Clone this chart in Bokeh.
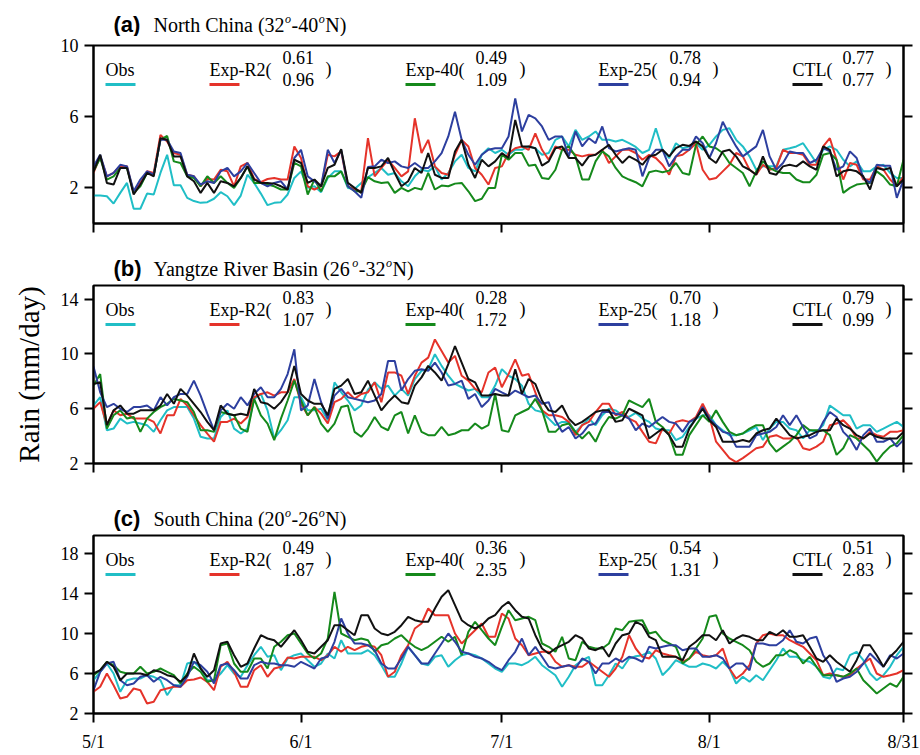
from bokeh.plotting import figure
from bokeh.layouts import column
from bokeh.models import Range1d, LinearAxis, FixedTicker, Label, BoxAnnotation, CustomJSTickFormatter
from bokeh.core.properties import value
from bokeh.embed import file_html
from bokeh.resources import INLINE

# ---------------- data ----------------
days = list(range(122))          # 0 = 5/1 ... end of axis at 8/31
tick_days = [0, 31, 61, 92, 121]
tick_labels = ["5/1", "6/1", "7/1", "8/1", "8/31"]
series_names = ["Obs", "Exp-R2(", "Exp-40(", "Exp-25(", "CTL("]
series_colors = ["#20bec6", "#e5332a", "#15891b", "#2d3f9f", "#111111"]

# (a) North China
nc_obs = [1.57,1.57,1.53,1.12,1.72,2.28,0.83,0.83,1.68,1.63, 2.84,3.86,2.15,2.15,1.44,1.26,1.16,1.20,1.39,1.76,
          1.53,1.03,1.57,2.74,2.28,1.68,1.03,1.16,1.20,1.63, 2.56,2.93,2.00,2.09,1.76,2.56,2.93,2.93,2.00,1.94,
          2.28,2.60,
          2.84,3.12,2.74,2.84,2.37,2.09,2.65,3.02,2.93,3.21, 2.47,2.84,3.49,3.86,3.12,2.93,3.86,4.23,3.96,4.14,
          3.86,4.14,4.14,4.33,4.23,3.86,3.96,4.70,4.89,4.33, 5.26,4.70,4.89,5.17,4.70,4.70,4.61,4.70,4.51,4.30,
          3.96,4.14,5.35,4.14,3.68,4.51,4.23,4.33,4.51,4.14, 4.42,4.89,5.26,5.35,4.70,4.33,3.77,3.02,3.21,3.21,
          3.21,4.14,4.23,4.33,4.51,3.96,3.40,4.14,4.33,4.14, 3.58,3.21,3.49,2.93,2.93,3.21,3.30,2.84,2.56,2.56]
nc_r2 = [2.84,3.77,2.65,2.84,3.25,3.21,1.72,2.28,2.93,2.84, 4.98,4.61,3.96,3.86,2.74,2.65,2.09,2.50,2.47,3.02,
         2.93,2.09,3.21,3.40,2.50,2.32,2.50,2.56,2.47,2.47, 4.33,3.68,2.09,1.91,2.09,3.86,3.77,4.05,2.09,1.91,
         1.81,4.79,
         2.65,3.12,3.58,3.12,2.65,2.93,5.91,3.96,4.70,3.21, 2.84,2.74,3.86,4.70,4.33,3.12,2.74,2.19,3.12,3.21,
         3.96,4.23,4.33,4.14,5.07,4.14,3.58,4.33,4.14,4.14, 3.86,3.77,3.86,3.86,4.14,3.40,3.77,4.14,4.14,3.96,
         3.58,3.86,3.68,3.30,2.74,3.77,3.86,4.14,4.51,3.02, 2.47,2.56,2.93,3.30,3.96,3.77,3.02,2.74,3.30,3.02,
         3.12,4.14,3.96,3.96,3.86,3.30,3.30,4.33,4.79,3.58, 2.47,3.40,3.30,2.47,2.47,3.21,3.02,2.47,2.09,2.65]
nc_e40 = [2.93,3.68,2.47,2.65,3.12,3.12,1.72,2.09,2.84,2.74, 4.70,4.92,3.49,3.40,2.65,2.56,2.09,2.65,2.28,2.65,
          2.28,2.00,2.56,3.21,2.28,2.28,2.19,2.09,1.91,1.91, 3.40,3.21,1.63,2.47,1.81,2.65,2.65,2.93,2.09,1.81,
          1.81,2.60,
          2.37,2.28,2.32,1.72,2.00,1.81,2.00,1.91,2.84,1.91, 2.13,2.09,2.24,2.28,1.81,1.26,1.39,2.00,2.00,3.86,
          3.58,3.96,3.96,3.25,3.30,2.56,2.50,3.02,4.14,4.33, 3.77,2.47,2.47,3.49,4.05,3.77,3.12,2.65,2.47,2.32,
          2.09,2.88,2.97,2.88,2.97,3.40,2.84,2.74,4.42,4.89, 4.33,4.23,3.96,3.40,3.12,2.84,2.09,2.93,3.49,3.12,
          2.93,2.84,2.84,2.47,2.32,2.32,2.74,3.86,3.96,3.58, 1.72,2.00,2.19,2.24,2.28,2.93,2.65,2.19,2.09,3.58]
nc_e25 = [3.21,3.86,2.65,2.84,3.30,3.21,1.81,2.47,2.93,2.74, 4.70,4.70,4.05,3.96,2.74,2.65,2.19,2.37,2.28,2.93,
          3.12,2.65,2.93,3.40,2.84,2.28,2.09,2.28,2.37,1.91, 3.68,4.14,2.65,2.37,2.09,4.14,3.40,4.14,2.09,1.81,
          1.44,3.17,
          3.21,3.58,3.40,3.49,3.21,3.12,3.40,3.12,3.12,3.49, 3.96,4.89,6.28,4.70,3.86,3.30,3.86,4.14,4.23,4.23,
          4.89,7.03,5.17,6.10,5.91,5.45,4.70,4.89,4.89,3.77, 5.17,4.33,4.79,4.51,5.45,4.23,4.05,4.14,4.23,4.14,
          2.65,3.68,4.14,4.14,3.21,3.77,4.14,4.14,4.89,4.51, 3.68,4.51,5.72,4.98,4.33,3.77,4.05,4.33,5.26,3.77,
          3.02,3.40,4.05,3.96,3.96,3.40,3.58,4.23,4.05,3.02, 3.21,4.05,3.68,2.56,2.28,3.30,3.25,3.25,1.44,2.47]
nc_ctl = [2.93,3.86,2.28,2.19,3.12,3.12,1.63,2.19,2.84,2.65, 4.79,4.70,3.77,3.77,2.65,2.37,1.72,2.28,1.72,2.37,
          2.28,2.09,2.56,3.21,2.47,2.28,2.28,2.24,2.09,1.91, 3.58,3.40,2.28,2.47,2.09,3.12,3.30,4.18,2.28,2.00,
          1.72,3.12,
          3.12,3.21,3.68,2.84,2.09,2.37,3.12,2.84,3.96,2.74, 2.56,2.56,4.05,4.70,3.30,2.56,3.58,3.21,3.49,3.96,
          3.68,5.82,4.33,4.33,4.23,3.25,3.49,4.23,4.33,3.68, 3.68,3.25,3.77,3.86,4.14,4.42,3.86,3.40,3.77,3.58,
          3.30,3.77,3.86,4.14,3.77,4.23,4.42,4.36,4.61,4.33, 3.68,3.40,4.05,4.14,3.77,3.21,3.02,2.74,3.77,2.84,
          2.74,3.21,3.30,3.21,3.49,3.21,3.02,4.33,4.14,2.65, 2.93,3.02,2.93,2.65,1.91,3.12,3.02,3.12,2.09,2.47]

# (b) Yangtze River Basin
yr_obs = [6.24,6.84,4.43,4.55,5.28,4.92,5.04,4.92,4.80,4.31, 5.16,5.88,6.12,6.12,6.12,5.28,3.95,3.83,3.83,5.40,
          5.88,4.55,4.19,4.55,6.72,7.08,5.88,3.83,4.43,5.16, 6.84,6.84,5.88,5.88,6.00,5.16,7.93,7.20,6.60,5.88,
          6.24,7.40,
          7.93,7.45,7.69,6.96,7.45,6.96,8.17,8.77,8.89,9.98, 9.13,8.41,7.81,7.57,7.33,7.45,6.84,6.84,7.69,8.89,
          8.41,8.17,7.69,6.36,5.88,5.76,5.28,4.80,5.04,5.04, 4.31,4.80,5.28,4.80,5.52,6.00,5.88,5.52,5.40,5.70,
          5.28,5.04,4.55,4.43,4.43,3.71,3.95,4.67,5.28,5.52, 5.52,4.80,4.43,4.07,4.07,4.19,4.43,4.67,3.71,4.55,
          5.04,5.04,4.55,4.43,3.83,4.43,4.31,4.80,6.24,5.88, 5.52,5.52,4.55,4.80,4.80,4.31,4.55,4.80,5.04,4.67]
yr_r2 = [6.00,6.48,4.80,5.88,5.52,5.64,5.28,5.28,5.28,5.04, 4.19,5.52,5.52,6.72,6.24,5.52,4.80,4.19,3.59,5.04,
         5.04,5.28,4.92,5.40,6.84,7.08,7.20,6.96,7.20,7.20, 8.17,6.36,5.52,6.12,5.64,4.92,6.48,6.72,7.20,6.72,
         7.08,7.20,
         7.93,6.48,8.65,8.65,8.41,7.08,8.41,9.37,9.73,11.06, 10.22,9.37,9.86,8.41,8.05,7.45,7.20,8.65,9.01,7.57,
         8.53,9.61,8.41,8.53,7.20,5.88,5.52,5.52,5.40,5.04, 4.07,4.80,5.04,5.76,6.36,6.36,5.52,5.76,5.28,5.04,
         4.31,3.59,3.47,4.55,4.19,5.04,5.16,5.04,5.40,6.36, 5.40,3.59,2.99,2.39,2.10,2.39,2.75,3.11,3.23,3.95,
         4.07,3.83,3.83,3.95,3.11,2.99,3.23,3.59,4.80,4.92, 5.16,4.67,3.83,3.83,4.31,4.07,3.95,4.31,4.31,4.43]
yr_e40 = [7.69,8.53,4.55,5.52,5.88,5.28,5.40,4.31,5.28,5.76, 6.12,6.36,6.72,6.60,6.48,5.76,4.43,4.43,4.31,5.76,
          5.64,5.52,4.55,4.31,6.72,5.52,4.92,3.71,5.28,6.60, 8.05,6.60,5.52,6.12,4.92,4.31,4.92,6.12,6.24,4.31,
          3.95,4.55,
          5.40,4.67,4.43,5.52,5.76,4.19,5.52,4.31,4.07,4.07, 4.67,4.07,4.19,4.43,4.43,4.92,4.55,4.80,7.08,4.43,
          4.31,5.52,5.76,6.00,6.72,5.88,4.31,4.31,4.80,4.92, 4.31,3.83,4.31,3.59,4.67,5.40,5.28,5.52,6.60,6.36,
          6.12,6.72,5.04,4.67,4.07,2.63,2.63,4.07,4.80,5.52, 5.04,5.88,5.04,4.31,4.07,4.19,4.55,4.80,4.80,3.47,
          2.87,3.23,3.59,4.07,4.80,4.43,4.43,4.43,4.07,2.63, 3.11,4.07,3.83,3.35,2.87,2.14,2.75,3.23,3.47,4.07]
yr_e25 = [9.08,7.20,6.12,6.36,6.00,5.76,6.12,6.12,6.24,5.88, 6.84,6.24,6.84,7.08,7.08,8.05,6.96,5.64,4.43,5.88,
          6.36,6.00,6.84,6.24,7.08,7.57,6.84,6.84,7.45,8.53, 10.34,5.88,6.24,8.17,6.48,5.28,6.96,7.45,6.84,6.72,
          6.60,6.48,
          6.60,7.08,9.49,9.49,7.33,8.17,8.77,8.89,8.77,9.37, 8.65,7.69,7.81,8.05,6.72,7.08,6.12,6.60,7.45,7.20,
          6.96,7.33,7.08,6.84,6.96,6.36,6.48,5.16,4.31,4.67, 3.83,4.19,4.80,4.92,5.76,5.76,5.64,5.52,5.28,4.43,
          4.92,4.67,5.04,5.40,5.04,4.92,4.31,5.04,5.28,6.12, 5.28,4.80,4.31,4.19,3.23,3.23,3.23,4.07,4.19,4.31,
          4.67,5.52,4.80,5.52,4.67,3.83,4.07,5.04,5.76,5.40, 4.31,3.83,2.99,4.07,4.55,3.59,3.59,3.83,3.23,3.71]
yr_ctl = [7.81,7.93,4.80,5.88,6.24,5.64,5.64,5.88,5.88,5.88, 6.24,7.08,6.36,7.45,6.96,6.36,5.76,5.04,4.43,6.24,
          5.64,5.52,5.64,5.52,7.45,6.48,6.36,6.00,6.48,7.20, 9.13,7.08,6.60,6.36,6.36,5.52,7.45,7.69,8.17,7.08,
          7.20,8.05,
          6.96,5.88,6.48,6.96,6.48,6.36,7.69,8.29,9.13,8.65, 8.05,9.25,10.58,9.37,8.17,7.93,6.96,6.96,7.08,6.96,
          6.96,8.89,7.08,8.17,7.81,6.60,5.88,5.76,6.24,5.28, 4.80,5.04,5.40,5.76,5.88,5.88,5.04,5.16,6.00,5.76,
          5.52,3.83,4.19,4.55,4.07,3.23,3.23,4.55,5.28,6.00, 5.16,4.67,3.59,3.59,3.59,3.71,3.59,4.19,4.43,4.55,
          5.28,4.67,4.07,3.83,3.95,4.07,4.31,4.43,4.43,5.28, 4.80,4.55,4.07,3.83,4.19,3.95,3.83,3.83,3.83,4.31]

# (c) South China
sc_obs = [5.33,6.17,7.00,6.00,4.17,5.33,5.50,5.50,5.83,5.67, 5.33,3.83,4.83,4.83,7.00,7.17,6.50,5.33,5.33,6.00,
          6.83,6.00,5.67,6.83,7.83,8.67,7.67,7.83,6.33,7.50, 7.83,8.00,7.33,6.67,7.00,8.00,7.50,9.33,8.00,8.00,
          8.00,8.33,
          7.83,6.83,5.67,5.67,7.00,8.67,7.83,7.00,6.83,7.67, 7.83,6.67,7.33,7.83,8.00,7.83,7.50,7.00,6.50,6.17,
          7.00,7.00,6.83,7.17,7.67,6.83,6.33,5.83,4.67,5.67, 6.83,7.33,7.67,4.83,4.83,5.83,7.00,6.50,7.50,7.73,
          7.83,8.17,7.50,5.83,6.50,7.33,7.00,6.67,6.67,7.00, 6.83,6.50,7.17,6.50,5.00,5.67,5.17,5.83,5.33,6.33,
          7.33,8.50,7.67,7.67,7.33,7.17,6.67,5.67,5.50,6.50, 6.33,7.83,8.17,7.33,6.00,5.33,5.83,6.67,7.83,8.67]
sc_r2 = [4.17,4.67,6.00,4.83,3.50,3.67,4.50,4.33,3.00,3.17, 4.33,4.50,4.67,4.67,5.33,5.40,5.60,5.17,4.33,6.67,
         7.17,6.17,4.67,4.67,6.33,6.83,5.67,6.50,6.67,7.60, 7.50,7.67,7.67,7.67,7.33,7.83,8.67,8.17,8.67,8.33,
         8.67,8.83,
         8.67,7.83,5.67,6.17,7.83,8.83,10.50,11.00,12.50,11.83, 11.83,11.83,10.00,9.00,9.67,10.33,11.00,9.67,9.67,12.00,
         11.50,9.50,8.83,7.83,8.00,8.17,8.17,7.17,6.67,6.83, 6.67,6.67,7.17,6.67,6.17,5.67,6.50,7.67,9.83,8.50,
         7.67,7.50,8.33,8.00,7.83,7.67,7.17,7.50,8.17,7.83, 7.67,7.83,8.50,6.50,5.50,6.00,6.83,9.00,9.83,10.00,
         9.83,9.83,9.33,9.00,8.67,8.00,7.33,5.83,6.00,5.83, 5.67,5.83,6.50,7.00,7.50,6.00,5.67,5.83,6.00,6.33]
sc_e40 = [5.83,6.33,7.17,6.83,6.17,6.00,6.00,6.67,6.00,6.17, 6.50,6.17,5.83,5.00,6.00,6.67,6.17,5.17,5.33,8.83,
          9.00,7.00,6.17,6.17,7.50,7.50,6.50,8.67,9.17,9.83, 10.00,9.00,8.00,7.50,8.00,9.50,14.17,10.00,9.67,9.33,
          9.50,9.33,
          8.17,8.83,9.00,9.50,9.83,9.17,8.67,8.33,8.67,9.17, 9.67,9.17,9.67,7.83,10.17,11.17,10.33,9.50,8.83,10.67,
          12.33,11.33,11.50,11.67,11.33,9.00,8.67,8.17,9.67,7.50, 7.33,9.17,8.67,8.50,8.50,9.00,10.50,10.33,11.17,11.27,
          11.33,10.00,10.17,9.33,9.00,8.67,7.00,7.50,8.50,9.50, 11.67,11.83,10.00,9.50,9.17,8.83,8.33,7.17,6.67,7.00,
          7.83,7.83,8.33,8.00,7.00,7.67,6.67,5.83,5.83,5.83, 5.67,6.00,6.50,5.33,4.67,4.00,4.50,5.00,4.67,5.67]
sc_e25 = [4.33,6.17,7.00,7.17,5.33,4.83,5.00,5.67,5.83,5.17, 5.67,5.33,4.83,4.67,5.67,7.17,6.83,6.17,5.00,6.83,
          7.00,6.33,5.50,5.50,6.83,7.17,7.00,7.00,6.83,6.83, 6.67,7.17,6.83,6.50,7.50,7.67,9.17,11.50,10.00,9.00,
          9.00,8.83,
          8.33,7.00,6.50,6.50,7.50,8.67,7.83,7.00,7.00,8.00, 9.00,10.00,9.17,8.17,8.00,7.67,7.50,7.17,6.67,6.33,
          7.33,8.17,9.50,7.83,8.67,7.67,6.67,6.50,6.67,6.83, 6.50,7.50,7.17,6.00,7.00,7.00,7.50,7.17,7.67,7.50,
          7.17,8.67,8.50,8.67,8.83,8.83,8.33,8.50,8.50,7.67, 7.67,7.83,7.50,6.50,7.00,7.00,6.33,9.00,9.00,8.83,
          8.83,9.33,10.33,9.17,9.00,9.50,9.67,7.83,6.83,5.17, 5.50,5.67,6.17,7.00,8.00,7.33,6.67,7.83,7.50,8.00]
sc_ctl = [6.00,6.33,7.17,6.67,5.33,6.00,6.00,6.00,5.83,6.33, 6.17,5.83,5.67,5.17,5.83,8.00,6.50,5.67,6.33,9.00,
          9.17,7.83,6.67,7.00,8.50,9.83,9.50,9.33,8.67,9.50, 10.33,9.33,8.17,8.00,8.67,9.33,10.83,10.83,10.33,9.83,
          11.83,11.83,
          10.50,10.00,9.83,10.17,10.83,11.67,11.33,11.17,11.17,12.50, 13.67,14.33,12.83,11.33,10.83,10.50,10.83,11.50,11.83,12.67,
          13.17,12.33,11.67,11.50,9.83,8.50,8.00,8.50,8.83,9.17, 9.83,9.50,8.50,8.33,8.67,7.67,9.00,9.83,10.00,11.17,
          10.83,9.67,9.33,7.67,7.67,7.67,7.33,8.67,9.17,9.83, 9.83,9.33,10.33,9.00,9.50,9.83,9.67,9.33,9.33,10.17,
          9.83,10.33,9.67,9.67,9.83,8.67,7.50,7.17,7.83,7.17, 6.67,6.17,7.33,8.83,8.83,7.83,6.67,7.67,8.33,9.17]

# correlation / ratio pairs for Exp-R2, Exp-40, Exp-25, CTL
nc_stats = [("0.61", "0.96"), ("0.49", "1.09"), ("0.78", "0.94"), ("0.77", "0.77")]
yr_stats = [("0.83", "1.07"), ("0.28", "1.72"), ("0.70", "1.18"), ("0.79", "0.99")]
sc_stats = [("0.49", "1.87"), ("0.36", "2.35"), ("0.54", "1.31"), ("0.51", "2.83")]

# ---------------- styling / layout ----------------
SERIF = "Liberation Serif"
SANS = "Liberation Sans"
X0, X1 = 0, 121
FL, FR = 93, 903          # frame left/right (px)
FH = 178                  # frame height (px)
TITLE_SIZE = 20

name_x = [105, 209, 405, 598, 792]
num_x = [282, 475, 669, 842]
close_x = [325, 519, 712, 885]

TIMES_W = {" ": .25, "(": .333, ")": .333, "-": .333, "N": .722, "o": .5, "r": .333, "t": .278,
           "h": .5, "C": .667, "i": .278, "n": .5, "a": .444, "Y": .722, "g": .5, "z": .444,
           "e": .444, "R": .667, "v": .5, "B": .667, "s": .389, "S": .556, "u": .5}


def est_width(txt, size):
    return sum(TIMES_W.get(ch, 0.5) for ch in txt) * size


def px2x(px):
    return X0 + (px - FL) * (X1 - X0) / (FR - FL)


def style_axis(ax, labels=True):
    ax.axis_line_width = 2
    ax.axis_line_color = "black"
    ax.major_tick_line_width = 2
    ax.major_tick_line_color = "black"
    ax.major_tick_in = 0
    ax.major_tick_out = 9
    ax.minor_tick_line_color = None
    ax.major_label_text_font = SERIF
    ax.major_label_text_font_size = "18px"
    ax.major_label_text_color = "black"
    if not labels:
        ax.formatter = CustomJSTickFormatter(code="return ''")
        ax.major_label_standoff = 0


def make_title(h, cy, tag, region, lat1, lat2):
    # frame spans page x FL..FR, so data x == page px
    t = figure(width=920, height=h, x_range=Range1d(FL, FR), y_range=Range1d(h, 0),
               output_backend="svg", toolbar_location=None,
               x_axis_type=None, y_axis_type=None,
               min_border_left=FL, min_border_right=920 - FR, min_border_top=0, min_border_bottom=0)
    t.outline_line_color = None
    t.background_fill_color = "white"
    t.border_fill_color = "white"
    t.text(x=[113], y=[cy], text=[tag], text_font=value(SANS), text_font_style="bold",
           text_font_size="22px", text_baseline="middle", text_align="left", text_color="black")
    x = 153
    pieces = [(region + " (" + lat1, False), ("o", True), ("-" + lat2, False), ("o", True), ("N)", False)]
    for txt, sup in pieces:
        if sup:
            t.text(x=[x + 0.5], y=[cy - 6], text=[txt], text_font=value(SERIF), text_font_style="italic",
                   text_font_size="12px", text_baseline="middle", text_align="left", text_color="black")
            x += 7
        else:
            t.text(x=[x], y=[cy], text=[txt], text_font=value(SERIF), text_font_size=f"{TITLE_SIZE}px",
                   text_baseline="middle", text_align="left", text_color="black")
            x += est_width(txt, TITLE_SIZE)
    return t


def make_panel(series, yr, yticks, top_b, bot_b, stats, show_x, ylabel=None):
    y0, y1 = yr
    p = figure(width=920, height=top_b + FH + bot_b,
               x_range=Range1d(X0, X1), y_range=Range1d(y0, y1),
               output_backend="svg", toolbar_location=None,
               x_axis_type=None, y_axis_type=None,
               min_border_left=FL, min_border_right=920 - FR,
               min_border_top=top_b, min_border_bottom=bot_b)
    p.outline_line_color = "black"
    p.outline_line_width = 2
    p.background_fill_color = "white"
    p.border_fill_color = "white"

    ly = LinearAxis(ticker=FixedTicker(ticks=yticks))
    style_axis(ly)
    ly.major_label_standoff = 6
    if ylabel:
        ly.axis_label = ylabel
        ly.axis_label_text_font = SERIF
        ly.axis_label_text_font_size = "29px"
        ly.axis_label_text_font_style = "normal"
        ly.axis_label_text_color = "black"
        ly.axis_label_standoff = 13
    p.add_layout(ly, "left")

    ry = LinearAxis(ticker=FixedTicker(ticks=yticks))
    style_axis(ry, labels=False)
    p.add_layout(ry, "right")

    bx = LinearAxis(ticker=FixedTicker(ticks=tick_days))
    style_axis(bx, labels=show_x)
    if show_x:
        bx.major_label_overrides = {d: t for d, t in zip(tick_days, tick_labels)}
        bx.major_label_standoff = 9
    p.add_layout(bx, "below")

    for ys, c in zip(series, series_colors):
        p.line(days, ys, line_color=c, line_width=2)

    s = (y1 - y0) / FH

    def yy(off):          # px offset below frame top -> data y
        return y1 - off * s

    def lab(px, off, text):
        p.add_layout(Label(x=px2x(px), y=yy(off), text=text, text_font=SERIF,
                           text_font_size="18px", text_align="left",
                           text_baseline="middle", text_color="black"))

    for i, (nm, c) in enumerate(zip(series_names, series_colors)):
        lab(name_x[i], 24, nm)
        p.add_layout(BoxAnnotation(left=px2x(name_x[i]), right=px2x(name_x[i] + 30),
                                   bottom=yy(40.5), top=yy(37.5),
                                   fill_color=c, fill_alpha=1, line_color=None))
        if i > 0:
            lab(num_x[i - 1], 12, stats[i - 1][0])
            lab(num_x[i - 1], 34, stats[i - 1][1])
            lab(close_x[i - 1], 23, ")")
    return p


ta = make_title(36, 24, "(a)", "North China", "32", "40")
pa = make_panel([nc_obs, nc_r2, nc_e40, nc_e25, nc_ctl], (0, 10), [2, 6, 10], 9, 30, nc_stats, False)
tb = make_title(28, 15, "(b)", "Yangtze River Basin", "26", "32")
pb = make_panel([yr_obs, yr_r2, yr_e40, yr_e25, yr_ctl], (2, 15), [2, 6, 10, 14], 4, 35, yr_stats, False,
                ylabel="Rain (mm/day)")
tc = make_title(33, 20, "(c)", "South China", "20", "26")
pc = make_panel([sc_obs, sc_r2, sc_e40, sc_e25, sc_ctl], (2, 19.8), [2, 6, 10, 14, 18], 4, 42, sc_stats, True)

layout = column(ta, pa, tb, pb, tc, pc, spacing=0)
open("out.html", "w").write(file_html(layout, INLINE))
